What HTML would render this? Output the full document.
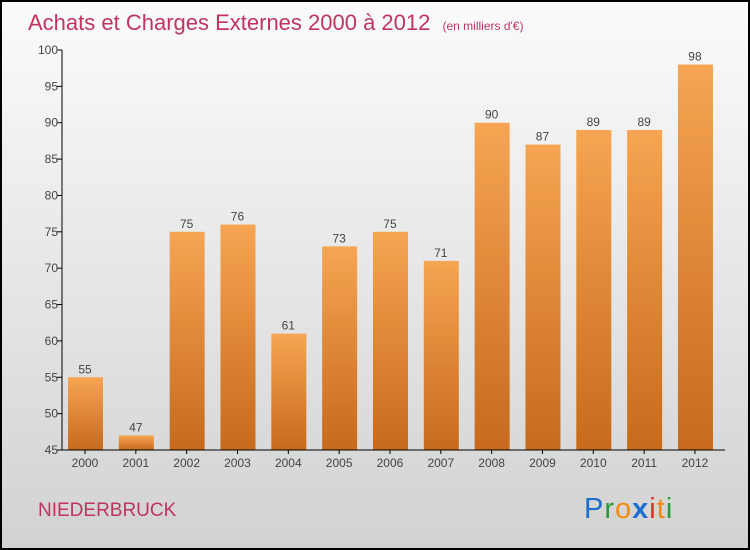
<!DOCTYPE html>
<html><head><meta charset="utf-8"><style>
body{margin:0}
#wrap{width:750px;height:550px;box-sizing:border-box;border:2px solid #000;background:linear-gradient(#fbfbfb,#d2d2d2);position:relative;overflow:hidden;font-family:"Liberation Sans",sans-serif}
</style></head><body>
<div id="wrap">
<svg width="746" height="546" style="position:absolute;left:0;top:0" id="svg">
<defs><linearGradient id="bg" x1="0" y1="0" x2="0" y2="1"><stop offset="0" stop-color="#f6a552"/><stop offset="1" stop-color="#c76a1c"/></linearGradient></defs>
<text x="26" y="28" font-size="22" fill="#c0345e">Achats et Charges Externes 2000 à 2012 <tspan font-size="12" dx="6">(en milliers d'€)</tspan></text>
<text x="36" y="514" font-size="19" fill="#c0345e">NIEDERBRUCK</text>
<g font-size="29">
<text x="582" y="516" letter-spacing="1"><tspan fill="#1a6fd0">P</tspan><tspan fill="#2a9a3a">r</tspan><tspan fill="#f08a10">o</tspan><tspan fill="#1a6fd0" font-weight="bold">x</tspan><tspan fill="#e03020">i</tspan><tspan fill="#f08a10">t</tspan><tspan fill="#2a9a3a">i</tspan></text></g>
<g id="plot"></g>
</svg>
</div>
<script>
const years=["2000","2001","2002","2003","2004","2005","2006","2007","2008","2009","2010","2011","2012"];
const values=[55,47,75,76,61,73,75,71,90,87,89,89,98];
const ticks=[45,50,55,60,65,70,75,80,85,90,95,100];
const ns="http://www.w3.org/2000/svg";
const g=document.getElementById('plot');
const y=v=>448-(v-45)*400/55;
const x=i=>83+i*50.83;
function mk(t,a){const e=document.createElementNS(ns,t);for(const k in a)e.setAttribute(k,a[k]);g.appendChild(e);return e;}
ticks.forEach(t=>{
 const l=mk('line',{x1:55,x2:60,y1:y(t),y2:y(t),stroke:'#000'});
 
 
 const tx=mk('text',{x:56,y:y(t)+4,'text-anchor':'end','font-size':12,fill:'#444'});tx.textContent=t;
 
 
});
values.forEach((v,i)=>{
 const r=mk('rect',{x:x(i)-17,y:y(v),width:35,height:y(45)-y(v),fill:'url(#bg)'});
 
 
 const t=mk('text',{x:x(i),y:y(v)-4,'text-anchor':'middle','font-size':12,fill:'#444'});t.textContent=v;
 
 
 const yl=mk('text',{x:x(i),y:465,'text-anchor':'middle','font-size':12,fill:'#444'});yl.textContent=years[i];
 
 
 const tk=mk('line',{x1:x(i),x2:x(i),y1:448,y2:452,stroke:'#000'});
 
 
});
const ya=mk('line',{x1:60,x2:60,y1:y(100),y2:448,stroke:'#000'});


const xa=mk('line',{x1:60,x2:723,y1:448,y2:448,stroke:'#000'});


</script>
</body></html>
